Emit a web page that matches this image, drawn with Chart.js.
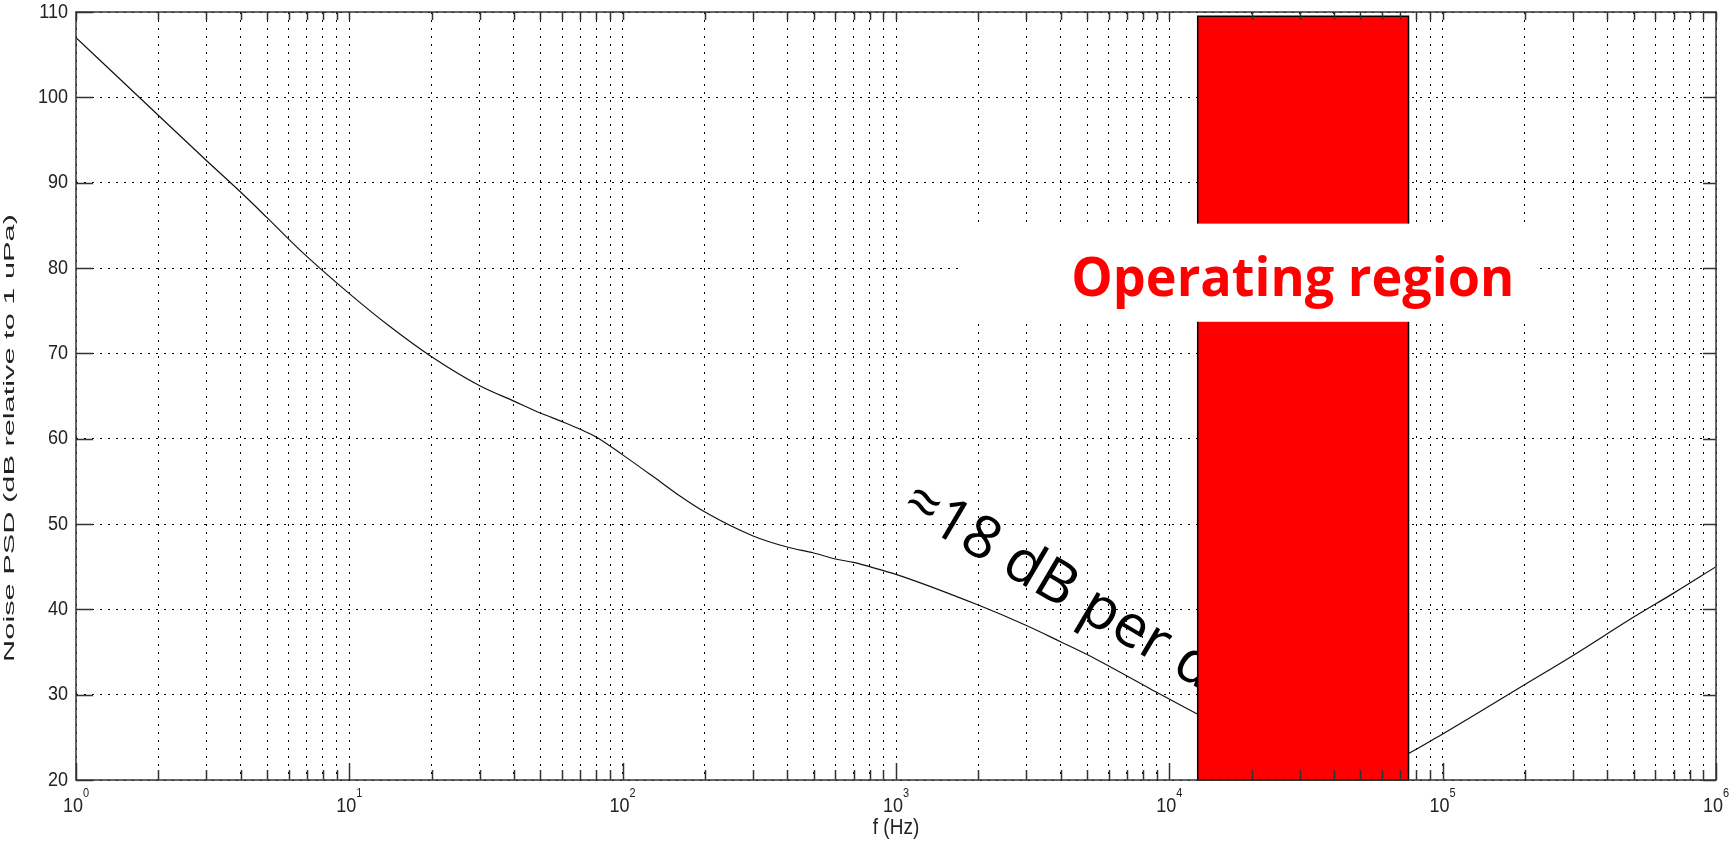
<!DOCTYPE html>
<html>
<head>
<meta charset="utf-8">
<title>Noise PSD</title>
<script src="https://cdn.jsdelivr.net/npm/chart.js@4.4.1/dist/chart.umd.min.js"></script>
<style>
  html, body { margin: 0; padding: 0; background: #fff; }
</style>
</head>
<body>
<canvas id="psdChart" width="1729" height="844"></canvas>
<script>
// Noise PSD curve: frequency (Hz) and level (dB re 1 uPa)
const freqHz = [1, 2, 3, 4, 5, 6.6, 10, 14, 20, 30, 40, 50, 60, 70, 80, 100, 130, 160, 200, 300, 400, 500, 600, 700, 800, 1000,
                2000, 3000, 4000, 5000, 8500, 12700, 25000, 50000, 75000, 100000, 200000, 300000, 500000, 700000, 1000000];
const psdDb  = [107, 97.9, 92.6, 88.9, 85.9, 82.1, 77.0, 73.2, 69.6, 66.2, 64.4, 63.0, 62.0, 61.1, 60.2, 58.1, 55.5, 53.4, 51.4, 48.6, 47.3, 46.6, 45.9, 45.5, 45.0, 44.1,
                40.5, 38.1, 36.2, 34.7, 30.7, 27.7, 23.0, 20.5, 23.1, 25.4, 31.2, 34.6, 39.1, 41.9, 45.0];

// axis ticks
const xDecades = [1, 10, 100, 1000, 10000, 100000, 1000000];
const xExponents = ['0', '1', '2', '3', '4', '5', '6'];
const xMinorSteps = [2, 3, 4, 5, 6, 7, 8, 9];
const yTicks = [20, 30, 40, 50, 60, 70, 80, 90, 100, 110];

// operating band (Hz) and its top (dB)
const bandHz = [12700, 75000];
const bandTopDb = 109.5;

// white label box behind "Operating region"
const labelBoxHz = [1690, 218000];
const labelBoxDb = [73.7, 85.2];

const slopeNote = { text: '\u224818 dB per decade', hz: 1026, db: 51.4, angle: 30.5 };

const xGrid = [];
xDecades.forEach((d, i) => {
  xGrid.push(d);
  if (i < xDecades.length - 1) xMinorSteps.forEach(m => xGrid.push(d * m));
});

const AXIS_FONT = '"Liberation Sans", Arial, sans-serif';
const AXIS_COLOR = '#222';

function stretchText(ctx, str, x, y, size, sy, align, baseline) {
  ctx.save();
  ctx.translate(x, y);
  ctx.scale(1, sy);
  ctx.font = size + 'px ' + AXIS_FONT;
  ctx.textAlign = align;
  ctx.textBaseline = baseline;
  ctx.fillText(str, 0, 0);
  ctx.restore();
}

const overlay = {
  id: 'overlay',
  afterDatasetsDraw(chart) {
    const { ctx, scales: { x, y } } = chart;

    // slope note, partly hidden by the band
    ctx.save();
    ctx.translate(x.getPixelForValue(slopeNote.hz), y.getPixelForValue(slopeNote.db));
    ctx.rotate(slopeNote.angle * Math.PI / 180);
    ctx.font = '59px "Open Sans", sans-serif';
    ctx.fillStyle = '#000';
    ctx.textBaseline = 'alphabetic';
    ctx.fillText(slopeNote.text, 0, 0);
    ctx.restore();

    // red operating band
    const bx0 = x.getPixelForValue(bandHz[0]);
    const bx1 = x.getPixelForValue(bandHz[1]);
    const by0 = y.getPixelForValue(bandTopDb);
    const by1 = y.getPixelForValue(y.min);
    ctx.save();
    ctx.fillStyle = '#ff0000';
    ctx.fillRect(bx0, by0, bx1 - bx0, by1 - by0);
    ctx.strokeStyle = '#000';
    ctx.lineWidth = 1.5;
    ctx.strokeRect(bx0, by0, bx1 - bx0, by1 - by0);

    // white box and label
    const lx0 = x.getPixelForValue(labelBoxHz[0]);
    const lx1 = x.getPixelForValue(labelBoxHz[1]);
    const ly0 = y.getPixelForValue(labelBoxDb[1]);
    const ly1 = y.getPixelForValue(labelBoxDb[0]);
    ctx.fillStyle = '#fff';
    ctx.fillRect(lx0, ly0, lx1 - lx0, ly1 - ly0);

    ctx.font = 'bold 53px "Open Sans", sans-serif';
    const w = ctx.measureText('Operating region').width;
    ctx.translate(lx0 + 113, ly0 + 72);
    ctx.scale(443 / w, 1);
    ctx.fillStyle = '#ff0000';
    ctx.textBaseline = 'alphabetic';
    ctx.fillText('Operating region', 0, 0);
    ctx.restore();
  },
  afterDraw(chart) {
    const { ctx, chartArea: a, scales: { x, y } } = chart;
    ctx.save();
    ctx.strokeStyle = '#333';
    ctx.lineWidth = 1.5;
    ctx.beginPath();
    // tick marks on all four sides, pointing inward
    xGrid.forEach(v => {
      const p = Math.round(x.getPixelForValue(v)) + 0.5;
      const major = xDecades.includes(v);
      ctx.moveTo(p, a.bottom);
      ctx.lineTo(p, a.bottom - (major ? 17 : 10));
      ctx.moveTo(p, a.top);
      ctx.lineTo(p, a.top + 8);
    });
    yTicks.forEach(v => {
      const p = Math.round(y.getPixelForValue(v)) + 0.5;
      ctx.moveTo(a.left, p);
      ctx.lineTo(a.left + 17, p);
      ctx.moveTo(a.right, p);
      ctx.lineTo(a.right - 13, p);
    });
    ctx.stroke();
    ctx.strokeRect(a.left, a.top, a.right - a.left, a.bottom - a.top);

    ctx.fillStyle = AXIS_COLOR;
    // y tick labels
    yTicks.forEach(v => {
      stretchText(ctx, String(v), a.left - 8, y.getPixelForValue(v), 18, 1.16, 'right', 'middle');
    });
    // x tick labels as 10 with a raised exponent
    xDecades.forEach((v, i) => {
      const p = x.getPixelForValue(v);
      ctx.font = '18px ' + AXIS_FONT;
      const wb = ctx.measureText('10').width;
      ctx.font = '11px ' + AXIS_FONT;
      const we = ctx.measureText(xExponents[i]).width;
      const left = p - (wb + we) / 2;
      stretchText(ctx, '10', left, a.bottom + 32, 18, 1.16, 'left', 'alphabetic');
      stretchText(ctx, xExponents[i], left + wb, a.bottom + 17, 11, 1.16, 'left', 'alphabetic');
    });
    // axis titles
    stretchText(ctx, 'f (Hz)', (a.left + a.right) / 2, 828, 19, 1.16, 'center', 'middle');
    ctx.save();
    ctx.translate(10, 438);
    ctx.rotate(-Math.PI / 2);
    ctx.scale(2.05, 1);
    ctx.font = '15px ' + AXIS_FONT;
    ctx.textAlign = 'center';
    ctx.textBaseline = 'middle';
    ctx.fillText('Noise PSD (dB relative to 1 uPa)', 0, 0);
    ctx.restore();
    ctx.restore();
  }
};

const ctx = document.getElementById('psdChart').getContext('2d');
new Chart(ctx, {
  type: 'line',
  data: {
    datasets: [{
      data: freqHz.map((f, i) => ({ x: f, y: psdDb[i] })),
      borderColor: '#111',
      borderWidth: 1.2,
      pointRadius: 0,
      cubicInterpolationMode: 'monotone',
      fill: false
    }]
  },
  options: {
    responsive: false,
    animation: false,
    devicePixelRatio: 1,
    layout: { padding: { left: 76, top: 12, right: 13, bottom: 64 } },
    plugins: { legend: { display: false }, tooltip: { enabled: false } },
    scales: {
      x: {
        type: 'logarithmic',
        min: 1,
        max: 1000000,
        afterBuildTicks: axis => { axis.ticks = xGrid.map(v => ({ value: v })); },
        ticks: { display: false },
        grid: { color: '#000', lineWidth: 1, drawTicks: false },
        border: { display: false, dash: [2, 6] }
      },
      y: {
        min: 20,
        max: 110,
        afterBuildTicks: axis => { axis.ticks = yTicks.map(v => ({ value: v })); },
        ticks: { display: false },
        grid: { color: '#000', lineWidth: 1, drawTicks: false },
        border: { display: false, dash: [2, 6] }
      }
    }
  },
  plugins: [overlay]
});
</script>
</body>
</html>
